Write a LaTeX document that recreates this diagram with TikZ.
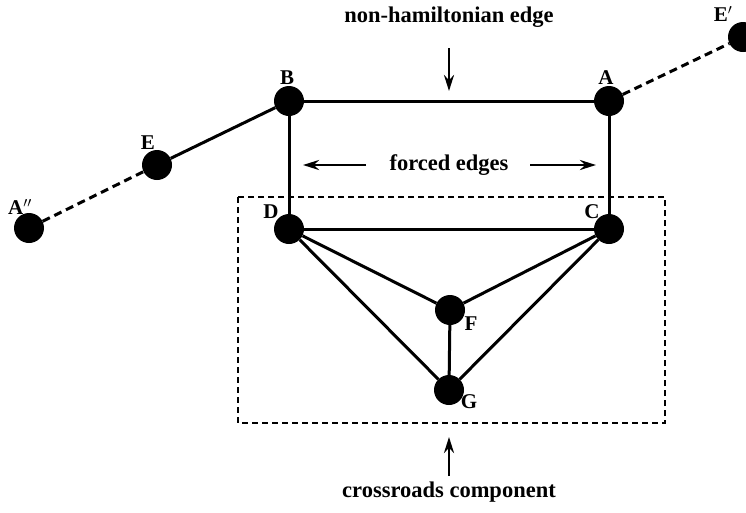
\documentclass[tikz,border=0pt]{standalone}
\usepackage{fontspec}
\setmainfont{Liberation Serif}
\usetikzlibrary{arrows.meta}
\begin{document}
\begin{tikzpicture}[x=1pt,y=-1pt,
  vtx/.style={circle,fill=black,minimum width=28pt,minimum height=30pt,inner sep=0pt},
  vlab/.style={font=\fontsize{21}{23}\selectfont\bfseries},
  edge/.style={line width=3pt},
  dedge/.style={line width=3pt,dash pattern=on 8pt off 5pt},
  txt/.style={font=\fontsize{22.5}{25}\selectfont\bfseries},
  arr/.style={line width=2.6pt,-{Stealth[length=16pt,width=10pt]}}]
\useasboundingbox (0,0) rectangle (746,512);
% vertices
\node[vtx] (App) at (29,228) {};
\node[vtx] (E) at (157,165) {};
\node[vtx] (B) at (289,101) {};
\node[vtx] (A) at (609,101) {};
\node[vtx] (Ep) at (743,37) {};
\node[vtx] (D) at (289,229) {};
\node[vtx] (C) at (609,229) {};
\node[vtx] (F) at (450,310) {};
\node[vtx] (G) at (449,390) {};
% labels
\node[vlab] at (20,207) {A$^{\prime\prime}$};
\node[vlab] at (148,143) {E};
\node[vlab] at (287,78) {B};
\node[vlab] at (606,78) {A};
\node[vlab] at (723,14) {E$^{\prime}$};
\node[vlab] at (271,212) {D};
\node[vlab] at (592,212) {C};
\node[vlab] at (471,324) {F};
\node[vlab] at (469,402) {G};
% edges
\draw[dedge] (App) -- (E);
\draw[edge] (E) -- (B);
\draw[edge] (B) -- (A);
\draw[dedge] (A) -- (Ep);
\draw[edge] (B) -- (D);
\draw[edge] (A) -- (C);
\draw[edge] (D) -- (C);
\draw[edge] (D) -- (F);
\draw[edge] (D) -- (G);
\draw[edge] (C) -- (F);
\draw[edge] (C) -- (G);
\draw[edge] (F) -- (G);
% component box
\draw[line width=2.6pt,dash pattern=on 6pt off 4pt] (238,197) rectangle (665,423);
% texts
\node[txt] (nh) at (449,17) {non-hamiltonian edge};
\coordinate (nhs) at (449,48);
\coordinate (nhe) at (449,91);
\draw[arr] (nhs) -- (nhe);
\node[txt] (fe) at (449,165) {forced edges};
\coordinate (fl1) at (366,165);
\coordinate (fl2) at (303,165);
\coordinate (fr1) at (530,165);
\coordinate (fr2) at (596,165);
\draw[arr] (fl1) -- (fl2);
\draw[arr] (fr1) -- (fr2);
\node[txt] (cc) at (449,492) {crossroads component};
\coordinate (ccs) at (449,476);
\coordinate (cce) at (449,437);
\draw[arr] (ccs) -- (cce);
\end{tikzpicture}
\end{document}
